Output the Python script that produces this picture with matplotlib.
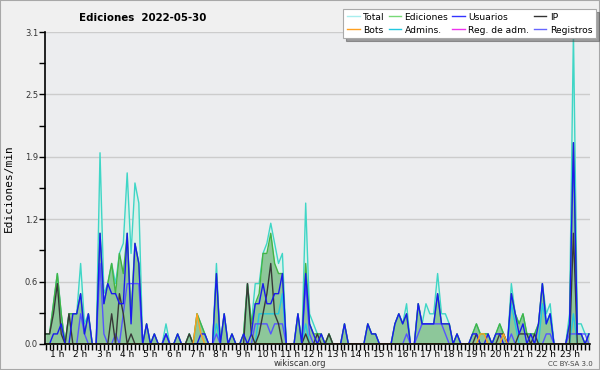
import numpy as np
import pandas as pd
import matplotlib
matplotlib.use("Agg")
import matplotlib.pyplot as plt
from matplotlib.lines import Line2D
from matplotlib.patches import Rectangle

# 10-minute bins, 00:30 .. 23:50
times = pd.date_range("2022-05-30 00:30", "2022-05-30 23:50", freq="10min")
hours = times.hour + times.minute / 60.0

# one row per hour (first row is 00:30-00:50)
total = [
    0.1, 0.1, 0.4,
    0.7, 0.3, 0.0, 0.3, 0.3, 0.3,
    0.8, 0.2, 0.3, 0.0, 0.0, 1.9,
    0.5, 0.6, 0.8, 0.6, 0.9, 1.0,
    1.7, 0.9, 1.6, 1.4, 0.0, 0.2,
    0.0, 0.1, 0.0, 0.0, 0.2, 0.0,
    0.0, 0.1, 0.0, 0.0, 0.1, 0.0,
    0.3, 0.2, 0.1, 0.0, 0.0, 0.8,
    0.0, 0.3, 0.0, 0.1, 0.0, 0.0,
    0.1, 0.6, 0.2, 0.6, 0.6, 0.9,
    1.0, 1.2, 1.0, 0.8, 0.9, 0.0,
    0.0, 0.0, 0.3, 0.0, 1.4, 0.3,
    0.2, 0.1, 0.1, 0.0, 0.1, 0.0,
    0.0, 0.0, 0.2, 0.0, 0.0, 0.0,
    0.0, 0.0, 0.2, 0.1, 0.1, 0.0,
    0.0, 0.0, 0.0, 0.2, 0.3, 0.2,
    0.4, 0.0, 0.0, 0.4, 0.2, 0.4,
    0.3, 0.3, 0.7, 0.3, 0.3, 0.2,
    0.0, 0.1, 0.0, 0.0, 0.0, 0.1,
    0.2, 0.1, 0.1, 0.1, 0.0, 0.1,
    0.2, 0.1, 0.0, 0.6, 0.3, 0.2,
    0.3, 0.1, 0.1, 0.1, 0.2, 0.6,
    0.3, 0.4, 0.0, 0.0, 0.0, 0.0,
    0.3, 3.1, 0.2, 0.2, 0.1, 0.1,
]
ediciones = [
    0.1, 0.1, 0.4,
    0.7, 0.3, 0.0, 0.3, 0.3, 0.3,
    0.5, 0.1, 0.3, 0.0, 0.0, 1.1,
    0.4, 0.6, 0.8, 0.5, 0.9, 0.7,
    1.1, 0.3, 1.0, 0.8, 0.0, 0.2,
    0.0, 0.1, 0.0, 0.0, 0.1, 0.0,
    0.0, 0.1, 0.0, 0.0, 0.1, 0.0,
    0.3, 0.2, 0.1, 0.0, 0.0, 0.7,
    0.0, 0.3, 0.0, 0.1, 0.0, 0.0,
    0.1, 0.6, 0.2, 0.4, 0.5, 0.9,
    0.9, 1.1, 0.8, 0.7, 0.7, 0.0,
    0.0, 0.0, 0.3, 0.0, 0.8, 0.2,
    0.1, 0.1, 0.1, 0.0, 0.1, 0.0,
    0.0, 0.0, 0.2, 0.0, 0.0, 0.0,
    0.0, 0.0, 0.2, 0.1, 0.1, 0.0,
    0.0, 0.0, 0.0, 0.2, 0.3, 0.2,
    0.3, 0.0, 0.0, 0.4, 0.2, 0.2,
    0.2, 0.2, 0.5, 0.2, 0.2, 0.2,
    0.0, 0.1, 0.0, 0.0, 0.0, 0.1,
    0.2, 0.1, 0.1, 0.1, 0.0, 0.1,
    0.2, 0.1, 0.0, 0.5, 0.3, 0.2,
    0.3, 0.1, 0.1, 0.1, 0.2, 0.6,
    0.2, 0.3, 0.0, 0.0, 0.0, 0.0,
    0.2, 2.0, 0.1, 0.1, 0.0, 0.1,
]
usuarios = [
    0.0, 0.0, 0.1,
    0.1, 0.2, 0.0, 0.0, 0.3, 0.3,
    0.5, 0.1, 0.3, 0.0, 0.0, 1.1,
    0.4, 0.6, 0.5, 0.5, 0.4, 0.4,
    1.1, 0.2, 1.0, 0.8, 0.0, 0.2,
    0.0, 0.1, 0.0, 0.0, 0.1, 0.0,
    0.0, 0.1, 0.0, 0.0, 0.0, 0.0,
    0.0, 0.1, 0.1, 0.0, 0.0, 0.7,
    0.0, 0.3, 0.0, 0.1, 0.0, 0.0,
    0.1, 0.0, 0.1, 0.4, 0.4, 0.6,
    0.4, 0.4, 0.5, 0.5, 0.7, 0.0,
    0.0, 0.0, 0.3, 0.0, 0.7, 0.2,
    0.1, 0.0, 0.1, 0.0, 0.0, 0.0,
    0.0, 0.0, 0.2, 0.0, 0.0, 0.0,
    0.0, 0.0, 0.2, 0.1, 0.1, 0.0,
    0.0, 0.0, 0.0, 0.2, 0.3, 0.2,
    0.3, 0.0, 0.0, 0.4, 0.2, 0.2,
    0.2, 0.2, 0.5, 0.2, 0.2, 0.2,
    0.0, 0.1, 0.0, 0.0, 0.0, 0.1,
    0.1, 0.0, 0.0, 0.1, 0.0, 0.1,
    0.1, 0.0, 0.0, 0.5, 0.3, 0.1,
    0.2, 0.0, 0.1, 0.0, 0.2, 0.6,
    0.2, 0.3, 0.0, 0.0, 0.0, 0.0,
    0.2, 2.0, 0.1, 0.1, 0.0, 0.1,
]
ip = [
    0.1, 0.1, 0.3,
    0.6, 0.1, 0.0, 0.3, 0.0, 0.0,
    0.0, 0.0, 0.0, 0.0, 0.0, 0.0,
    0.0, 0.0, 0.3, 0.0, 0.5, 0.3,
    0.0, 0.1, 0.0, 0.0, 0.0, 0.0,
    0.0, 0.0, 0.0, 0.0, 0.0, 0.0,
    0.0, 0.0, 0.0, 0.0, 0.1, 0.0,
    0.0, 0.0, 0.0, 0.0, 0.0, 0.0,
    0.0, 0.0, 0.0, 0.0, 0.0, 0.0,
    0.0, 0.6, 0.1, 0.0, 0.1, 0.3,
    0.5, 0.8, 0.3, 0.2, 0.0, 0.0,
    0.0, 0.0, 0.0, 0.0, 0.1, 0.0,
    0.0, 0.1, 0.0, 0.0, 0.1, 0.0,
    0.0, 0.0, 0.0, 0.0, 0.0, 0.0,
    0.0, 0.0, 0.0, 0.0, 0.0, 0.0,
    0.0, 0.0, 0.0, 0.0, 0.0, 0.0,
    0.0, 0.0, 0.0, 0.0, 0.0, 0.0,
    0.0, 0.0, 0.0, 0.0, 0.0, 0.0,
    0.0, 0.0, 0.0, 0.0, 0.0, 0.0,
    0.1, 0.0, 0.0, 0.0, 0.0, 0.0,
    0.1, 0.1, 0.0, 0.0, 0.0, 0.1,
    0.1, 0.1, 0.0, 0.1, 0.0, 0.0,
    0.0, 0.0, 0.0, 0.0, 0.0, 0.0,
    0.0, 1.1, 0.0, 0.0, 0.0, 0.0,
]
bots = [
    0.0, 0.0, 0.0,
    0.0, 0.0, 0.0, 0.0, 0.0, 0.0,
    0.0, 0.0, 0.0, 0.0, 0.0, 0.0,
    0.0, 0.0, 0.0, 0.0, 0.0, 0.0,
    0.0, 0.0, 0.0, 0.0, 0.0, 0.0,
    0.0, 0.0, 0.0, 0.0, 0.0, 0.0,
    0.0, 0.0, 0.0, 0.0, 0.0, 0.0,
    0.3, 0.1, 0.0, 0.0, 0.0, 0.0,
    0.0, 0.0, 0.0, 0.0, 0.0, 0.0,
    0.0, 0.0, 0.0, 0.0, 0.0, 0.0,
    0.0, 0.0, 0.0, 0.0, 0.0, 0.0,
    0.0, 0.0, 0.0, 0.0, 0.0, 0.0,
    0.0, 0.0, 0.0, 0.0, 0.0, 0.0,
    0.0, 0.0, 0.0, 0.0, 0.0, 0.0,
    0.0, 0.0, 0.0, 0.0, 0.0, 0.0,
    0.0, 0.0, 0.0, 0.0, 0.0, 0.0,
    0.0, 0.0, 0.0, 0.0, 0.0, 0.0,
    0.0, 0.0, 0.0, 0.0, 0.0, 0.0,
    0.0, 0.0, 0.0, 0.0, 0.0, 0.0,
    0.0, 0.1, 0.1, 0.0, 0.0, 0.0,
    0.0, 0.1, 0.0, 0.0, 0.0, 0.0,
    0.0, 0.0, 0.0, 0.0, 0.0, 0.0,
    0.0, 0.0, 0.0, 0.0, 0.0, 0.0,
    0.0, 0.0, 0.0, 0.0, 0.0, 0.0,
]
admins = [
    0.0, 0.0, 0.0,
    0.0, 0.0, 0.0, 0.0, 0.0, 0.0,
    0.0, 0.0, 0.0, 0.0, 0.0, 0.0,
    0.0, 0.0, 0.0, 0.0, 0.0, 0.0,
    0.0, 0.0, 0.0, 0.0, 0.0, 0.0,
    0.0, 0.0, 0.0, 0.0, 0.0, 0.0,
    0.0, 0.0, 0.0, 0.0, 0.0, 0.0,
    0.0, 0.0, 0.0, 0.0, 0.0, 0.2,
    0.0, 0.0, 0.0, 0.0, 0.0, 0.0,
    0.0, 0.0, 0.0, 0.0, 0.3, 0.3,
    0.3, 0.3, 0.3, 0.3, 0.5, 0.0,
    0.0, 0.0, 0.0, 0.0, 0.2, 0.0,
    0.0, 0.0, 0.0, 0.0, 0.0, 0.0,
    0.0, 0.0, 0.0, 0.0, 0.0, 0.0,
    0.0, 0.0, 0.0, 0.0, 0.0, 0.0,
    0.0, 0.0, 0.0, 0.0, 0.0, 0.0,
    0.0, 0.0, 0.0, 0.0, 0.0, 0.0,
    0.0, 0.0, 0.0, 0.0, 0.0, 0.0,
    0.0, 0.0, 0.0, 0.0, 0.0, 0.0,
    0.0, 0.0, 0.0, 0.0, 0.0, 0.0,
    0.0, 0.0, 0.0, 0.4, 0.2, 0.0,
    0.0, 0.0, 0.0, 0.0, 0.0, 0.4,
    0.2, 0.3, 0.0, 0.0, 0.0, 0.0,
    0.0, 0.3, 0.0, 0.0, 0.0, 0.0,
]
registros = [
    0.0, 0.0, 0.0,
    0.0, 0.0, 0.0, 0.0, 0.0, 0.0,
    0.3, 0.1, 0.0, 0.0, 0.0, 0.8,
    0.1, 0.0, 0.0, 0.1, 0.0, 0.3,
    0.6, 0.6, 0.6, 0.6, 0.0, 0.0,
    0.0, 0.0, 0.0, 0.0, 0.1, 0.0,
    0.0, 0.0, 0.0, 0.0, 0.0, 0.0,
    0.0, 0.0, 0.0, 0.0, 0.0, 0.1,
    0.0, 0.0, 0.0, 0.0, 0.0, 0.0,
    0.0, 0.0, 0.0, 0.2, 0.2, 0.2,
    0.2, 0.1, 0.2, 0.2, 0.2, 0.0,
    0.0, 0.0, 0.0, 0.0, 0.6, 0.1,
    0.0, 0.0, 0.0, 0.0, 0.0, 0.0,
    0.0, 0.0, 0.0, 0.0, 0.0, 0.0,
    0.0, 0.0, 0.0, 0.0, 0.0, 0.0,
    0.0, 0.0, 0.0, 0.0, 0.0, 0.0,
    0.1, 0.0, 0.0, 0.1, 0.2, 0.2,
    0.2, 0.2, 0.2, 0.2, 0.1, 0.0,
    0.0, 0.0, 0.0, 0.0, 0.0, 0.0,
    0.0, 0.0, 0.0, 0.0, 0.0, 0.0,
    0.0, 0.0, 0.0, 0.1, 0.0, 0.0,
    0.0, 0.0, 0.0, 0.0, 0.0, 0.0,
    0.1, 0.1, 0.0, 0.0, 0.0, 0.0,
    0.1, 0.1, 0.1, 0.1, 0.1, 0.0,
]
reg_adm = [0.0] * len(total)

y_ticks = [0.0, 0.62, 1.24, 1.86, 2.48, 3.1]
y_labels = ["0.0", "0.6", "1.2", "1.9", "2.5", "3.1"]
hour_ticks = list(range(1, 24))
hour_labels = ["%d h" % h for h in hour_ticks]

c_total = "#3fd6c6"
c_edic = "#44b444"
c_usu = "#1a1aee"
c_ip = "#383838"
c_bots = "#ffa020"
c_adm = "#22c8e0"
c_regadm = "#ee33ee"
c_reg = "#5555ff"

fig = plt.figure(figsize=(6, 3.7), dpi=100, facecolor="#f0f0f0")
fig.patches.append(Rectangle((0, 0), 1, 1, transform=fig.transFigure,
                             fill=False, edgecolor="#a8a8a8", lw=1.5))
ax = fig.add_axes([0.075, 0.0703, 0.908, 0.8432])
ax.set_facecolor("#ecedef")

ax.fill_between(hours, total, color="#d9f1ea", lw=0)
ax.fill_between(hours, ediciones, color="#8dc79a", lw=0)
ax.plot(hours, total, color=c_total, lw=1.0)
ax.plot(hours, ediciones, color=c_edic, lw=1.0)
ax.plot(hours, reg_adm, color=c_regadm, lw=0.8, alpha=0)
ax.plot(hours, admins, color=c_adm, lw=1.0)
ax.plot(hours, registros, color=c_reg, lw=1.0)
ax.plot(hours, ip, color=c_ip, lw=1.0)
ax.plot(hours, usuarios, color=c_usu, lw=1.0)
ax.plot(hours, bots, color=c_bots, lw=1.0)

ax.set_xlim(0.47, 23.87)
ax.set_ylim(0, 3.1)
ax.set_yticks(y_ticks)
ax.set_yticklabels(y_labels, fontsize=6, color="#333333")
ax.set_yticks([0.31, 0.93, 1.55, 2.17, 2.79], minor=True)
ax.set_xticks(hour_ticks)
ax.set_xticklabels(hour_labels, fontsize=6.5)
ax.set_xticks(np.arange(0.5, 23.9, 1 / 6.0), minor=True)
ax.tick_params(axis="x", which="both", length=4, width=1, pad=0)
ax.tick_params(axis="y", which="both", length=4, width=1, pad=1)
ax.grid(axis="y", color="#cccccc", lw=1)
ax.set_axisbelow(True)
for s in ["top", "right"]:
    ax.spines[s].set_visible(False)
ax.spines["left"].set_linewidth(1.2)
ax.spines["bottom"].set_linewidth(1.2)

ax.set_ylabel("Ediciones/min", fontsize=8, family="DejaVu Sans Mono", labelpad=8)
fig.text(0.237, 0.952, "Ediciones  2022-05-30", fontsize=7.4, weight="bold",
         ha="center", va="center")
fig.text(0.5, 0.017, "wikiscan.org", fontsize=6, ha="center", va="center",
         color="#333333")
fig.text(0.95, 0.017, "CC BY-SA 3.0", fontsize=5, ha="center", va="center",
         color="#444444")

handles = [
    Line2D([], [], color="#a8eeee", lw=1), Line2D([], [], color=c_bots, lw=1),
    Line2D([], [], color="#77d977", lw=1), Line2D([], [], color=c_adm, lw=1),
    Line2D([], [], color="#3333ff", lw=1), Line2D([], [], color=c_regadm, lw=1),
    Line2D([], [], color="#333333", lw=1), Line2D([], [], color="#6666ff", lw=1),
]
labels = ["Total", "Bots", "Ediciones", "Admins.", "Usuarios", "Reg. de adm.",
          "IP", "Registros"]
leg = fig.legend(handles, labels, ncol=4, loc="upper right",
                 bbox_to_anchor=(0.993, 0.976), fontsize=6.6, frameon=True,
                 shadow=True, fancybox=False, columnspacing=0.45,
                 handlelength=1.4, handletextpad=0.35, borderpad=0.4,
                 labelspacing=0.45, borderaxespad=0)
leg.get_frame().set_edgecolor("#aaaaaa")
leg.get_frame().set_linewidth(0.8)

fig.savefig("out.png", dpi=100, facecolor=fig.get_facecolor())
